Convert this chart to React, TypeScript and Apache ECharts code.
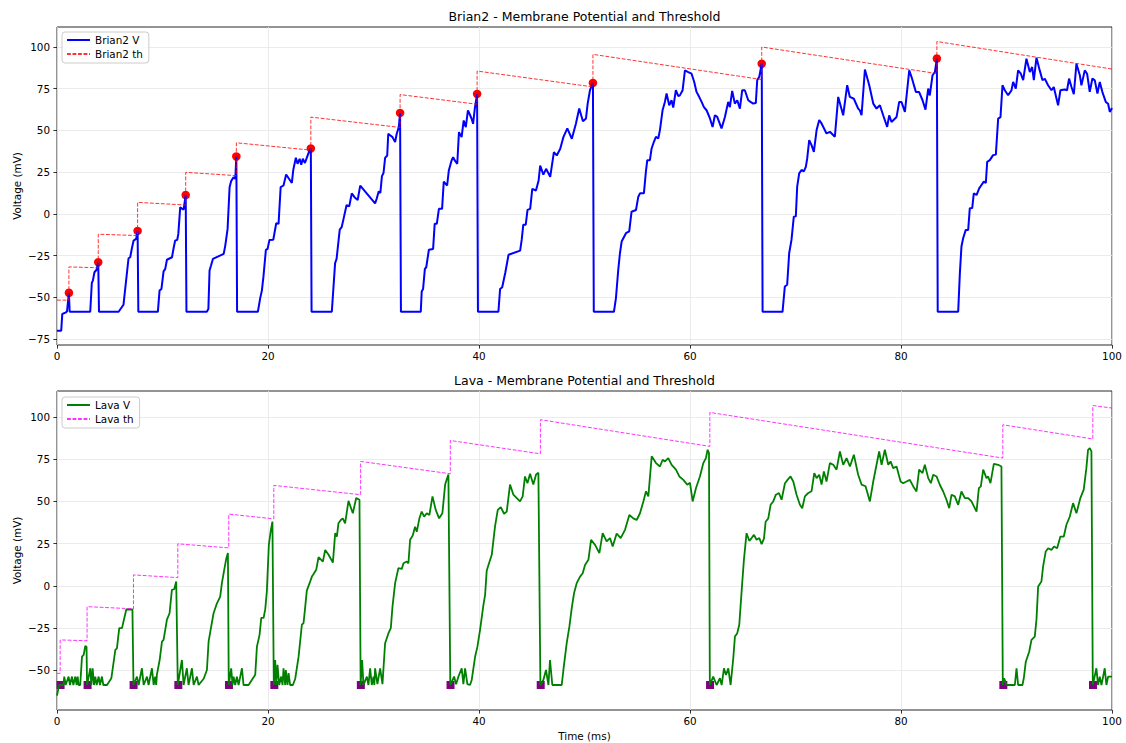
import React, { useEffect, useRef } from 'react';
import * as echarts from 'echarts';

const FONT = 'DejaVu Sans';

const xTicks = [0, 20, 40, 60, 80, 100];
const brianYTicks = [-75, -50, -25, 0, 25, 50, 75, 100];
const lavaYTicks = [-50, -25, 0, 25, 50, 75, 100];

const brianTitle = 'Brian2 - Membrane Potential and Threshold';
const lavaTitle = 'Lava - Membrane Potential and Threshold';

const brian2V: [number, number][] = [
  [0, -70], [0.4, -70], [0.5, -60], [0.8, -59.2], [0.95, -58.5], [1.05, -52], [1.13, -47.3],
  [1.2, -58.7], [3.15, -58.7], [3.3, -41.4], [3.4, -40], [3.55, -35], [3.75, -33.5], [3.91, -29],
  [3.98, -58.7], [5.84, -58.7], [6.3, -54.5], [6.78, -26.6], [6.94, -26], [7.1, -20.6], [7.26, -16], [7.5, -15], [7.64, -10.2],
  [7.71, -58.7], [9.56, -58.7], [9.72, -46], [9.9, -45], [10.1, -34.5], [10.26, -33], [10.42, -27.5], [10.9, -26], [11.05, -20.6], [11.2, -16], [11.4, -15.5], [11.5, -12], [11.68, 4], [12.0, 2.5], [12.2, 11.3],
  [12.27, -58.7], [14.2, -58.7], [14.35, -57], [14.46, -34], [14.6, -31], [14.78, -27], [15.8, -24], [15.95, -19], [16.17, -9], [16.36, 16], [16.5, 19.5], [16.73, 22], [16.9, 21], [17.0, 34.4],
  [17.07, -58.7], [19.04, -58.7], [19.26, -50.5], [19.42, -46], [19.57, -37.5], [19.8, -21.6], [19.96, -21], [20.14, -15.6], [20.5, -15.5], [20.78, -5.6], [21.0, -6], [21.2, 16], [21.47, 17], [21.72, 23.6], [22.26, 18.5], [22.4, 26.5], [22.64, 33.6], [22.8, 30], [23.0, 33], [23.15, 29.5], [23.3, 33], [23.5, 30.5], [23.7, 34], [23.85, 36.5], [24.06, 39.2],
  [24.13, -58.7], [26.05, -58.7], [26.36, -29.5], [26.5, -27], [26.8, -9.5], [26.98, -8], [27.14, -3.6], [27.45, 5.3], [27.7, 4.5], [27.94, 12.3], [28.2, 10], [28.5, 8.3], [28.74, 16.9], [30.15, 6.3], [30.3, 9], [30.5, 13.5], [30.65, 12.5], [30.8, 22.6], [30.95, 24.5], [31.1, 33.6], [31.3, 35], [31.4, 48], [31.6, 47], [31.8, 46], [32.05, 43], [32.2, 48], [32.4, 52], [32.52, 60.5],
  [32.6, -58.7], [34.48, -58.7], [34.57, -46.5], [34.7, -45], [34.87, -33], [35.0, -32], [35.25, -21.5], [35.65, -21], [35.8, -6], [36.0, -6], [36.2, 3], [36.5, 3], [36.66, 19.3], [36.98, 17], [37.14, 26], [37.4, 32], [37.55, 34], [37.7, 32], [37.94, 30], [38.1, 49], [38.35, 46], [38.55, 56], [38.75, 52], [38.95, 62], [39.1, 60], [39.3, 57], [39.44, 54], [39.6, 63], [39.82, 71.9],
  [39.9, -58.7], [41.84, -58.7], [42.0, -45], [42.2, -44], [42.5, -35], [42.8, -24.5], [43.9, -22], [44.05, -15.5], [44.2, -6.5], [44.43, -6.5], [44.6, 2.4], [44.85, 3], [45.05, 15], [45.4, 14], [45.65, 20], [45.8, 28.9], [46.1, 23.5], [46.36, 27], [46.75, 22.2], [47.1, 37], [47.37, 35], [47.7, 39], [48.0, 46], [48.37, 51.2], [48.8, 45], [49.19, 54.2], [49.5, 63.1], [49.85, 55.5], [50.14, 57.2], [50.3, 66.1], [50.52, 74.1], [50.8, 78.5],
  [50.88, -58.7], [52.79, -58.7], [52.98, -50.5], [53.2, -33.5], [53.36, -23.6], [53.52, -16.6], [53.93, -11.6], [54.24, -10.5], [54.46, 1.3], [54.88, 2.3], [55.1, 10.3], [55.26, 12.3], [55.63, 12.3], [55.82, 25.3], [55.95, 32.2], [56.2, 32.2], [56.36, 39.2], [56.58, 43.2], [56.77, 46.2], [56.99, 45.2], [57.15, 50.2], [57.4, 62.1], [57.62, 67.1], [57.78, 72.1], [58.03, 65.1], [58.25, 68.1], [58.41, 63.7], [58.66, 74.1], [58.89, 70.5], [59.04, 71], [59.3, 74.1], [59.52, 86], [59.83, 85], [60.15, 84], [60.4, 79], [60.62, 73.1], [60.88, 70], [61.1, 67.1], [61.32, 64], [61.57, 62.1], [61.89, 57.2], [62.14, 52.1], [62.36, 59.1], [62.58, 58.1], [62.99, 51.2], [63.31, 58.1], [63.62, 67.1], [63.78, 64], [64.0, 73.7], [64.25, 66.1], [64.48, 68.1], [64.73, 63.1], [64.95, 74.1], [65.2, 74.1], [65.52, 68.1], [65.74, 67.1], [65.99, 66.1], [66.24, 66.5], [66.37, 80.1], [66.56, 82.1], [66.8, 90],
  [66.88, -58.7], [68.77, -58.7], [68.99, -43.5], [69.21, -42.5], [69.4, -23.6], [69.62, -15.6], [69.84, -1.7], [70.03, -1.5], [70.16, 16.3], [70.35, 24.3], [70.57, 26.3], [70.79, 25.5], [70.98, 28.2], [71.11, 33.2], [71.3, 44.2], [71.52, 41.2], [71.74, 37.2], [72.0, 50.2], [72.25, 56.2], [72.47, 54.2], [72.94, 48.2], [73.26, 49.2], [73.73, 46.2], [74.05, 70.1], [74.52, 59.1], [74.9, 77.1], [75.15, 70.1], [75.53, 69], [75.94, 63.1], [76.1, 62], [76.26, 59.1], [76.58, 86.5], [76.99, 77.1], [77.37, 66.1], [77.68, 63.1], [78.0, 65.1], [78.31, 59.1], [78.69, 52.1], [78.88, 59], [79.1, 55.1], [79.58, 58.1], [79.83, 67.1], [80.05, 67], [80.37, 61.1], [80.78, 86], [81.0, 82], [81.41, 73.1], [81.72, 73], [82.04, 68.1], [82.32, 62.5], [82.58, 75.1], [82.73, 71], [82.99, 83.1], [83.21, 85], [83.4, 93.1],
  [83.48, -58.7], [85.42, -58.7], [85.58, -35.5], [85.73, -19.6], [85.89, -14.6], [86.14, -9.6], [86.37, -9.6], [86.52, 3.3], [86.75, 3.5], [86.9, 12.3], [87.16, 11.3], [87.41, 15.3], [87.63, 17.3], [87.85, 19.3], [88.04, 18.5], [88.17, 31.2], [88.42, 32.2], [88.73, 35.2], [88.99, 35.5], [89.21, 57.1], [89.43, 58], [89.62, 77.1], [89.84, 74.1], [90.15, 71.1], [90.47, 74], [90.63, 79.1], [90.88, 75.1], [91.1, 86], [91.36, 84], [91.58, 80.1], [91.89, 93], [92.21, 85], [92.43, 88], [92.59, 80.1], [92.84, 93.6], [93.15, 86], [93.41, 80.1], [93.63, 81], [93.94, 77.1], [94.26, 74.1], [94.48, 76], [94.89, 65.1], [95.11, 74.1], [95.52, 74.5], [95.74, 74.1], [95.93, 81.1], [96.16, 76], [96.38, 71.7], [96.63, 90], [96.95, 83.1], [97.1, 77.1], [97.42, 86], [97.64, 84], [97.89, 73.1], [98.14, 81.1], [98.37, 80], [98.62, 72.1], [98.84, 79.1], [99.09, 73], [99.41, 67.1], [99.63, 66], [99.79, 61.1], [100, 63.5],
];

const brian2Th: [number, number][] = [
  [0, -51.7], [1.13, -51.7], [1.13, -31.8], [3.91, -32.3], [3.91, -12.2], [7.64, -13], [7.64, 6.9], [12.2, 5.3],
  [12.2, 24.9], [17.0, 22.9], [17.0, 42.6], [24.06, 38.2], [24.06, 58], [32.52, 51.8], [32.52, 71.5], [39.82, 65.7],
  [39.82, 85.6], [50.8, 76.1], [50.8, 95.6], [66.8, 80.5], [66.8, 100], [83.4, 84.1], [83.4, 103.3], [100, 86.8],
];

const brian2Spikes: [number, number][] = [
  [1.13, -47.3], [3.91, -29], [7.64, -10.2], [12.2, 11.3], [17.0, 34.4], [24.06, 39.2],
  [32.52, 60.5], [39.82, 71.9], [50.8, 78.5], [66.8, 90], [83.4, 93.1],
];

const lavaV: [number, number][] = [
  [0, -65], [0.2, -58.7], [0.6, -58.7], [0.69, -53.7], [0.82, -58.7], [1.1, -53.7], [1.23, -58.7], [1.42, -53.7], [1.55, -58.7], [1.74, -53.7], [1.86, -58.7], [1.96, -53.7], [2.05, -58.7], [2.2, -58.7], [2.37, -41.9], [2.53, -40.9], [2.68, -35.6], [2.8, -36], [2.85, -58.7],
  [3.16, -48.8], [3.25, -58.7], [3.38, -48.8], [3.5, -58.7], [3.63, -53.7], [3.76, -58.7], [3.95, -53.7], [4.07, -58.7], [4.26, -53.7], [4.39, -58.7], [4.74, -58.7], [5.15, -54.7], [5.53, -37.9], [5.68, -37], [5.9, -25], [6.16, -25], [6.38, -19], [6.57, -14], [7.15, -14], [7.25, -58.7],
  [7.58, -53.7], [7.74, -58.7], [8.05, -48.8], [8.21, -58.7], [8.53, -53.7], [8.68, -58.7], [9.0, -48.8], [9.16, -58.7], [9.31, -53.7], [9.4, -58.7], [9.47, -52.6], [9.73, -43.9], [9.95, -33], [10.1, -32], [10.26, -26], [10.42, -20], [10.67, -16.2], [10.89, -2.4], [11.11, -2], [11.3, 2.6], [11.45, -58.7],
  [11.84, -43.9], [12.0, -58.7], [12.31, -48.8], [12.47, -58.7], [12.79, -48.8], [12.95, -58.7], [13.26, -53.7], [13.42, -58.7], [13.9, -55], [14.21, -49.8], [14.37, -33], [14.59, -25], [14.84, -16.2], [15.16, -10.3], [15.47, -6.3], [15.63, 1.6], [15.85, 9.5], [16.04, 16], [16.2, 19.4], [16.28, -58.7],
  [16.51, -48.8], [16.64, -58.7], [16.74, -53.7], [16.89, -58.7], [17.05, -53.7], [17.21, -58.7], [17.37, -53.7], [17.53, -48.8], [17.68, -58.7], [18.16, -58.7], [18.79, -52.6], [18.95, -36], [19.2, -29], [19.36, -19], [19.58, -19], [19.74, -13.8], [19.89, -3.4], [20.08, 24.3], [20.25, 32.2], [20.42, 38.1], [20.55, -58.7],
  [20.68, -43.9], [20.78, -58.7], [20.9, -46.8], [21.06, -58.7], [21.25, -53.7], [21.38, -58.7], [21.47, -48.8], [21.63, -58.7], [21.69, -49.8], [21.85, -58.7], [21.95, -51.7], [22.1, -58.7], [22.36, -58.7], [22.58, -55], [22.9, -41.9], [23.21, -23], [23.37, -22], [23.53, -12.3], [23.68, -2.8], [23.94, 1.6], [24.16, 5.5], [24.32, 7], [24.57, 9.5], [24.79, 17], [25.2, 14.4], [25.42, 21.3], [25.74, 18.4], [26.15, 13.8], [26.37, 31.2], [26.53, 29.2], [26.68, 37.1], [26.9, 39], [27.09, 40], [27.31, 37], [27.63, 50.4], [28.04, 43], [28.36, 52], [28.67, 51], [28.78, -58.7],
  [28.92, -43.9], [29.05, -58.7], [29.37, -53.7], [29.52, -58.7], [29.68, -48.8], [29.84, -58.7], [30.0, -53.7], [30.08, -58.7], [30.15, -48.8], [30.37, -58.2], [30.63, -48.8], [30.85, -58.2], [31.1, -34], [31.42, -28], [31.64, -25], [31.8, -12.3], [32.05, 1.6], [32.36, 10.5], [32.68, 10], [32.84, 13.4], [33.15, 14.4], [33.31, 13.4], [33.47, 27.3], [33.72, 29.8], [33.94, 35], [34.1, 32], [34.35, 40], [34.57, 44], [34.8, 41], [35.05, 43], [35.3, 42], [35.59, 53], [35.9, 45], [36.22, 40], [36.53, 43], [36.79, 60], [36.94, 63], [37.1, 66], [37.28, -58.7],
  [37.64, -53.7], [37.83, -58.2], [38.05, -53.7], [38.36, -48.8], [38.52, -58.2], [38.68, -48.8], [38.9, -58.2], [39.15, -58.7], [39.31, -55.7], [39.63, -42], [39.85, -36], [40.1, -26], [40.42, -11.3], [40.58, -5.3], [40.73, 8.9], [40.95, 13.4], [41.21, 18.4], [41.52, 35.2], [41.78, 45], [42.06, 46.6], [42.38, 42.7], [42.63, 44], [42.94, 60], [43.26, 54], [43.58, 52], [43.89, 50], [44.14, 53], [44.36, 64.8], [44.59, 60.8], [44.84, 66.4], [45.15, 60], [45.41, 66], [45.63, 67], [45.82, -58.7],
  [46.1, -55.7], [46.35, -49.8], [46.58, -58.7], [46.73, -43.9], [46.95, -58.7], [47.84, -58.7], [48.0, -49.8], [48.31, -34], [48.57, -24], [48.79, -13.2], [49.01, -4.3], [49.26, 1.6], [49.58, 5.5], [49.83, 7.5], [50.05, 12.4], [50.37, 15.4], [50.62, 27.3], [51.0, 24.3], [51.41, 19.4], [51.72, 31.2], [52.1, 26.3], [52.42, 28.3], [52.67, 23.3], [53.05, 31], [53.43, 28.3], [53.84, 33.2], [54.25, 42], [54.63, 40], [54.94, 39], [55.26, 43], [55.58, 50], [55.83, 56], [56.05, 53], [56.37, 76.7], [56.78, 72.7], [57.15, 70.7], [57.41, 74.7], [57.63, 73.7], [57.94, 75.7], [58.26, 71.7], [58.67, 68.8], [58.99, 64.8], [59.37, 62.8], [59.74, 59.9], [60.0, 61], [60.25, 50], [60.57, 58], [60.94, 64.8], [61.26, 72.7], [61.51, 75.7], [61.67, 80.6], [61.8, 78.6], [61.88, -58.7],
  [62.2, -53.7], [62.52, -58.7], [62.84, -54.7], [63.0, -58.7], [63.22, -48.8], [63.41, -52.8], [63.63, -48.8], [63.85, -58.7], [64.1, -42.9], [64.26, -30], [64.48, -28], [64.67, -23], [64.89, -3.4], [65.11, 15.4], [65.36, 31.2], [65.62, 26.7], [65.84, 28.3], [66.06, 30.2], [66.31, 27.3], [66.57, 28.3], [66.79, 24.7], [67.01, 28], [67.17, 38], [67.42, 40], [67.64, 48], [67.89, 50], [68.14, 54], [68.43, 55], [68.68, 51], [69.0, 60.8], [69.25, 62.8], [69.53, 64.8], [69.79, 61.8], [70.1, 54], [70.42, 48], [70.64, 46], [70.89, 53], [71.21, 55], [71.52, 56], [71.78, 66.8], [72.0, 63.8], [72.25, 65.8], [72.47, 60], [72.69, 67.8], [72.94, 61.8], [73.26, 72.7], [73.58, 71.7], [73.89, 68.8], [74.21, 79.6], [74.52, 71.7], [74.84, 75.7], [75.16, 70.7], [75.53, 77.7], [75.94, 65.8], [76.26, 60], [76.64, 59], [77.05, 50], [77.37, 61.8], [77.68, 71.7], [77.93, 79.6], [78.16, 71.7], [78.47, 80.6], [78.79, 71.7], [79.01, 73.7], [79.26, 69.7], [79.58, 70.7], [79.96, 61.8], [80.21, 60.8], [80.52, 61.8], [80.84, 62.8], [81.16, 58.9], [81.47, 55.9], [81.72, 68.8], [82.04, 66.8], [82.26, 71.7], [82.58, 63.8], [82.83, 60.8], [83.05, 65.8], [83.37, 64.8], [83.68, 59.9], [84.0, 55.9], [84.31, 51], [84.57, 46], [84.79, 54], [85.1, 53], [85.42, 48], [85.73, 55.9], [86.05, 52], [86.37, 52], [86.68, 50], [87.16, 44], [87.38, 57.9], [87.57, 58.9], [87.79, 68.8], [88.1, 63.8], [88.26, 64.8], [88.48, 60.8], [88.8, 72.3], [89.21, 71.7], [89.52, 70.7], [89.65, -58.7],
  [89.78, -54.7], [90.0, -58.7], [90.79, -58.7], [90.95, -48.8], [91.1, -58.7], [91.51, -58.7], [91.64, -54.7], [91.83, -44.9], [92.15, -39], [92.37, -32], [92.68, -30], [92.84, -20], [93.0, -0.4], [93.31, 2.6], [93.47, 11.5], [93.72, 20.4], [93.95, 22.3], [94.26, 21.3], [94.51, 23.3], [94.8, 22.3], [95.11, 29.2], [95.43, 29.2], [95.68, 36.2], [96.0, 41.1], [96.31, 49], [96.63, 43], [97.0, 52], [97.32, 57], [97.57, 69.7], [97.73, 80.6], [97.89, 81.6], [98.05, 79.6], [98.18, -58.7],
  [98.52, -48.8], [98.68, -58.7], [98.84, -53.7], [99.0, -58.7], [99.16, -53.7], [99.31, -48.8], [99.47, -58.7], [99.63, -53.7], [100, -53.7],
];

const lavaTh: [number, number][] = [
  [0, -51.8], [0.3, -51.8], [0.3, -32], [2.85, -32.5], [2.85, -12.3], [7.25, -13.6], [7.25, 6.5], [11.45, 4.9],
  [11.45, 24.9], [16.28, 22.5], [16.28, 42.5], [20.55, 39.7], [20.55, 59.5], [28.78, 54], [28.78, 73.7], [37.28, 66.4],
  [37.28, 86.1], [45.82, 78.2], [45.82, 98.4], [61.88, 82.6], [61.88, 102.7], [89.65, 75.7], [89.65, 95.4], [98.18, 87],
  [98.18, 106.8], [100, 105.3],
];

const lavaSpikes: [number, number][] = [
  [0.34, -58.7], [2.9, -58.7], [7.26, -58.7], [11.5, -58.7], [16.3, -58.7], [20.6, -58.7],
  [28.8, -58.7], [37.3, -58.7], [45.85, -58.7], [61.9, -58.7], [89.7, -58.7], [98.2, -58.7],
];

const fmt = (v: number) => (v < 0 ? '\u2212' + Math.abs(v) : String(v));

const tickStyle = { show: true, inside: false, length: 3.6, lineStyle: { color: '#000', width: 0.8 } };
const splitStyle = { show: true, lineStyle: { color: '#e6e6e6', width: 0.8 } };
const labelBase = { fontFamily: FONT, fontSize: 10.4, color: '#000' };

function makeX(gridIndex: number) {
  return {
    type: 'value', gridIndex, min: 0, max: 100, interval: 20,
    axisLine: { show: false, onZero: false },
    axisTick: { ...tickStyle },
    axisLabel: { ...labelBase, margin: 6, customValues: xTicks },
    splitLine: splitStyle,
  };
}

function makeY(gridIndex: number, min: number, max: number, ticks: number[]) {
  return {
    type: 'value', gridIndex, min, max,
    axisLine: { show: false, onZero: false },
    axisTick: { ...tickStyle, customValues: ticks },
    axisLabel: { ...labelBase, margin: 7, customValues: ticks, formatter: fmt },
    splitLine: splitStyle,
  };
}

function makeLegend(names: string[], top: number) {
  return {
    data: names, left: 62, top, orient: 'vertical', itemWidth: 23, itemHeight: 12, itemGap: 4,
    padding: [3, 6, 4, 4], backgroundColor: 'rgba(255,255,255,0.8)', borderColor: '#cccccc',
    borderWidth: 1, borderRadius: 3, selectedMode: false,
    itemStyle: { opacity: 0 },
    textStyle: { fontFamily: FONT, fontSize: 10.4, color: '#000' },
  };
}

export default function App() {
  const ref = useRef<HTMLDivElement>(null);
  useEffect(() => {
    document.body.style.margin = '0';
    const chart = echarts.init(ref.current!, undefined, { renderer: 'svg' });
    const option: any = {
      animation: false,
      backgroundColor: '#fff',
      grid: [
        { left: 57, right: 14, top: 27, height: 318, show: true, borderColor: '#111', borderWidth: 0.9 },
        { left: 57, right: 14, top: 391, height: 319, show: true, borderColor: '#111', borderWidth: 0.9 },
      ],
      xAxis: [makeX(0), makeX(1)],
      yAxis: [makeY(0, -78.6, 112, brianYTicks), makeY(1, -73.5, 115.4, lavaYTicks)],
      legend: [makeLegend(['Brian2 V', 'Brian2 th'], 32), makeLegend(['Lava V', 'Lava th'], 397)],
      graphic: [
        { type: 'text', x: 584.5, y: 16, style: { text: brianTitle, fontFamily: FONT, fontSize: 12.5, fill: '#000', textAlign: 'center', textVerticalAlign: 'middle' } },
        { type: 'text', x: 584.5, y: 380, style: { text: lavaTitle, fontFamily: FONT, fontSize: 12.5, fill: '#000', textAlign: 'center', textVerticalAlign: 'middle' } },
        { type: 'text', x: 17, y: 186, rotation: Math.PI / 2, style: { text: 'Voltage (mV)', fontFamily: FONT, fontSize: 10.4, fill: '#000', textAlign: 'center', textVerticalAlign: 'middle' } },
        { type: 'text', x: 17, y: 550.5, rotation: Math.PI / 2, style: { text: 'Voltage (mV)', fontFamily: FONT, fontSize: 10.4, fill: '#000', textAlign: 'center', textVerticalAlign: 'middle' } },
        { type: 'text', x: 584.5, y: 736, style: { text: 'Time (ms)', fontFamily: FONT, fontSize: 10.4, fill: '#000', textAlign: 'center', textVerticalAlign: 'middle' } },
      ],
      series: [
        { name: 'Brian2 V', type: 'line', xAxisIndex: 0, yAxisIndex: 0, data: brian2V, symbol: 'none', showSymbol: false,
          lineStyle: { color: '#0000ff', width: 2 }, itemStyle: { color: '#0000ff' } },
        { name: 'Brian2 th', type: 'line', xAxisIndex: 0, yAxisIndex: 0, data: brian2Th, symbol: 'none', showSymbol: false,
          lineStyle: { color: 'rgba(255,0,0,0.8)', width: 1, type: [3.85, 1.66] }, itemStyle: { color: 'rgba(255,0,0,0.8)' } },
        { name: 'Brian2 spikes', type: 'scatter', xAxisIndex: 0, yAxisIndex: 0, data: brian2Spikes, symbol: 'circle', symbolSize: 8.5,
          itemStyle: { color: '#ff0000', opacity: 1 } },
        { name: 'Lava V', type: 'line', xAxisIndex: 1, yAxisIndex: 1, data: lavaV, symbol: 'none', showSymbol: false,
          lineStyle: { color: '#008000', width: 1.8 }, itemStyle: { color: '#008000' } },
        { name: 'Lava th', type: 'line', xAxisIndex: 1, yAxisIndex: 1, data: lavaTh, symbol: 'none', showSymbol: false,
          lineStyle: { color: 'rgba(255,0,255,0.8)', width: 1, type: [3.85, 1.66] }, itemStyle: { color: 'rgba(255,0,255,0.8)' } },
        { name: 'Lava spikes', type: 'scatter', xAxisIndex: 1, yAxisIndex: 1, data: lavaSpikes, symbol: 'rect', symbolSize: 8,
          itemStyle: { color: '#800080', opacity: 1 } },
      ],
    };
    chart.setOption(option);
    return () => chart.dispose();
  }, []);
  return <div ref={ref} style={{ width: 1126, height: 743 }} />;
}
